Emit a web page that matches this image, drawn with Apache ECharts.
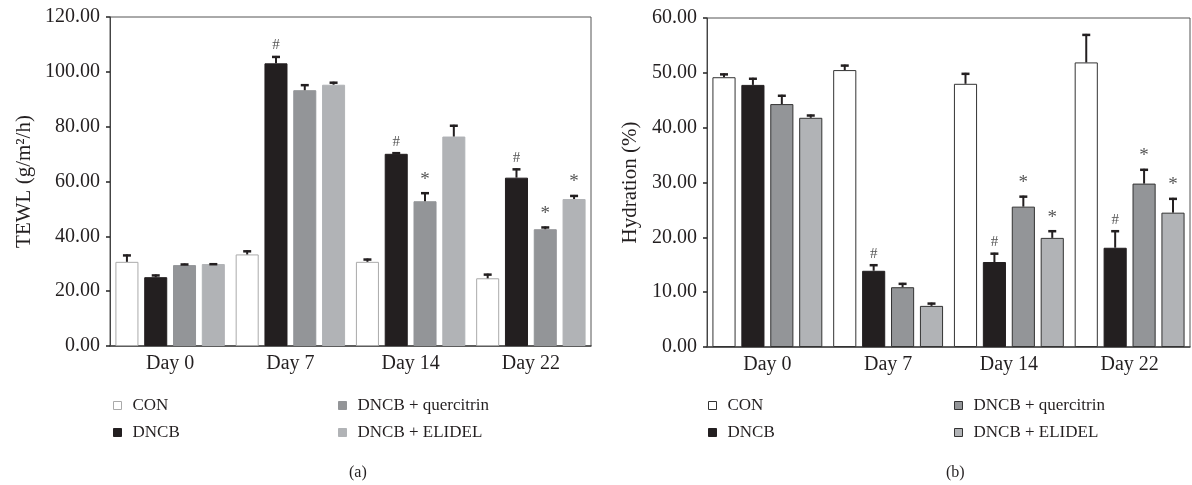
<!DOCTYPE html>
<html>
<head>
<meta charset="utf-8">
<script src="https://cdn.jsdelivr.net/npm/echarts@6/dist/echarts.min.js"></script>
<style>
  html, body { margin: 0; padding: 0; background: #fff; }
  #chart { width: 1192px; height: 485px; }
</style>
</head>
<body>
<div id="chart"></div>
<script>
// categories and groups
const days = ["Day 0", "Day 7", "Day 14", "Day 22"]
const groups = ["CON", "DNCB", "DNCB + quercitrin", "DNCB + ELIDEL"]

// (a) TEWL (g/m2/h)
const tewlCon = [30.7, 33.4, 30.7, 24.7]
const tewlConErr = [2.7, 1.5, 1.2, 1.7]
const tewlDncb = [25.1, 103.1, 70.1, 61.4]
const tewlDncbErr = [1.0, 2.7, 0.6, 3.4]
const tewlQuer = [29.5, 93.3, 52.8, 42.6]
const tewlQuerErr = [0.6, 2.2, 3.3, 1.0]
const tewlElid = [29.9, 95.3, 76.4, 53.6]
const tewlElidErr = [0.3, 1.1, 4.3, 1.5]
const tewlMarks = [
	["", "", "", ""],
	["", "#", "#", "#"],
	["", "", "*", "*"],
	["", "", "", "*"]
]

// (b) Hydration (%)
const hydCon = [49.2, 50.5, 48.0, 51.9]
const hydConErr = [0.7, 1.0, 2.0, 5.2]
const hydDncb = [47.8, 13.9, 15.5, 18.1]
const hydDncbErr = [1.3, 1.2, 1.7, 3.2]
const hydQuer = [44.3, 10.9, 25.6, 29.8]
const hydQuerErr = [1.7, 0.8, 2.0, 2.7]
const hydElid = [41.8, 7.5, 19.9, 24.5]
const hydElidErr = [0.6, 0.6, 1.4, 2.7]
const hydMarks = [
	["", "", "", ""],
	["", "#", "#", "#"],
	["", "", "*", "*"],
	["", "", "*", "*"]
]

const yTicksA = [0, 20, 40, 60, 80, 100, 120]
const yTicksB = [0, 10, 20, 30, 40, 50, 60]

const fills = ["#ffffff", "#231f20", "#939598", "#b1b3b6"]
const font = "Liberation Serif"
const ink = "#231f20"
const catGap = 0.09
const barGap = 0.25

let chart = echarts.init(document.getElementById("chart"))

function errRender(idx, errs, marks) {
	return function (params, api) {
		let i = api.value(0)
		let v = api.value(1)
		let e = errs[params.dataIndex]
		let base = api.coord([i, v])
		let top = api.coord([i, v + e])
		let band = api.size([1, 0])[0]
		let group = band * (1 - catGap)
		let w = group / (4 + 3 * barGap)
		let cx = base[0] - group / 2 + w / 2 + idx * w * (1 + barGap)
		let children = [
			{type: "line", shape: {x1: cx, y1: base[1], x2: cx, y2: top[1]}, style: {stroke: ink, lineWidth: 2}},
			{type: "line", shape: {x1: cx - 4, y1: top[1] + 1, x2: cx + 4, y2: top[1] + 1}, style: {stroke: ink, lineWidth: 2.5}}
		]
		let m = marks[params.dataIndex]
		if (m) {
			children.push({
				type: "text",
				style: {
					text: m, x: cx, y: top[1] - 3,
					align: "center", verticalAlign: "bottom",
					fill: "#555", font: (m == "*" ? "19px " : "15px ") + font
				}
			})
		}
		return {type: "group", children: children}
	}
}

function makeSeries(gridIdx, vals, errs, marks, borders) {
	let out = []
	vals.forEach(function (arr, k) {
		out.push({
			name: groups[k],
			type: "bar",
			xAxisIndex: gridIdx,
			yAxisIndex: gridIdx,
			data: arr,
			barCategoryGap: (catGap * 100) + "%",
			barGap: (barGap * 100) + "%",
			itemStyle: {color: fills[k], borderColor: borders[k], borderWidth: 1},
			emphasis: {disabled: true},
			z: 2
		})
	})
	vals.forEach(function (arr, k) {
		out.push({
			type: "custom",
			xAxisIndex: gridIdx,
			yAxisIndex: gridIdx,
			data: arr.map(function (v, i) { return [i, v] }),
			renderItem: errRender(k, errs[k], marks[k]),
			z: 3,
			silent: true
		})
	})
	return out
}

function yAxis(gridIdx, ticks, name, gap) {
	return {
		type: "value",
		gridIndex: gridIdx,
		min: ticks[0],
		max: ticks[ticks.length - 1],
		interval: ticks[1] - ticks[0],
		name: name,
		nameLocation: "middle",
		nameGap: gap,
		nameTextStyle: {fontFamily: font, fontSize: 21, color: ink},
		axisLine: {show: true, lineStyle: {color: "#444", width: 1}},
		axisTick: {show: true, length: 4, lineStyle: {color: "#222", width: 1.5}},
		splitLine: {show: false},
		axisLabel: {
			fontFamily: font, fontSize: 20, color: ink, margin: 10,
			formatter: function (v) { return v.toFixed(2) }
		}
	}
}

function xAxis(gridIdx) {
	return {
		type: "category",
		gridIndex: gridIdx,
		data: days,
		axisLine: {lineStyle: {color: "#444", width: 1.5}},
		axisTick: {show: false},
		axisLabel: {fontFamily: font, fontSize: 20, color: ink, margin: 8}
	}
}

function legendCol(left, names, border) {
	return {
		orient: "vertical",
		left: left,
		top: 397,
		padding: 0,
		itemWidth: 8,
		itemHeight: 8,
		itemGap: 10,
		icon: "rect",
		selectedMode: false,
		textStyle: {fontFamily: font, fontSize: 17, color: ink, padding: [0, 0, 0, 6]},
		data: names.map(function (n) {
			let k = groups.indexOf(n)
			return {name: n, itemStyle: {color: fills[k], borderColor: border[k], borderWidth: 1}}
		})
	}
}

const bordersA = ["#aaaaaa", ink, "#939598", "#b1b3b6"]
const bordersB = ["#333333", ink, "#333333", "#333333"]

let option = {
	animation: false,
	backgroundColor: "#fff",
	grid: [
		{left: 110, right: 601, top: 17, bottom: 139, show: true, borderColor: "#555", borderWidth: 1},
		{left: 707, right: 2, top: 18, bottom: 138, show: true, borderColor: "#555", borderWidth: 1}
	],
	xAxis: [xAxis(0), xAxis(1)],
	yAxis: [
		yAxis(0, yTicksA, "TEWL (g/m\u00b2/h)", 75),
		yAxis(1, yTicksB, "Hydration (%)", 66)
	],
	legend: [
		legendCol(113, ["CON", "DNCB"], bordersA),
		legendCol(338, ["DNCB + quercitrin", "DNCB + ELIDEL"], bordersA),
		legendCol(708, ["CON", "DNCB"], bordersB),
		legendCol(954, ["DNCB + quercitrin", "DNCB + ELIDEL"], bordersB)
	],
	title: [
		{text: "(a)", left: 344, top: 460, textStyle: {fontFamily: font, fontSize: 16, fontWeight: "normal", color: ink}},
		{text: "(b)", left: 941, top: 460, textStyle: {fontFamily: font, fontSize: 16, fontWeight: "normal", color: ink}}
	],
	series: [].concat(
		makeSeries(0, [tewlCon, tewlDncb, tewlQuer, tewlElid],
			[tewlConErr, tewlDncbErr, tewlQuerErr, tewlElidErr], tewlMarks, bordersA),
		makeSeries(1, [hydCon, hydDncb, hydQuer, hydElid],
			[hydConErr, hydDncbErr, hydQuerErr, hydElidErr], hydMarks, bordersB)
	)
}

chart.setOption(option)
</script>
</body>
</html>
